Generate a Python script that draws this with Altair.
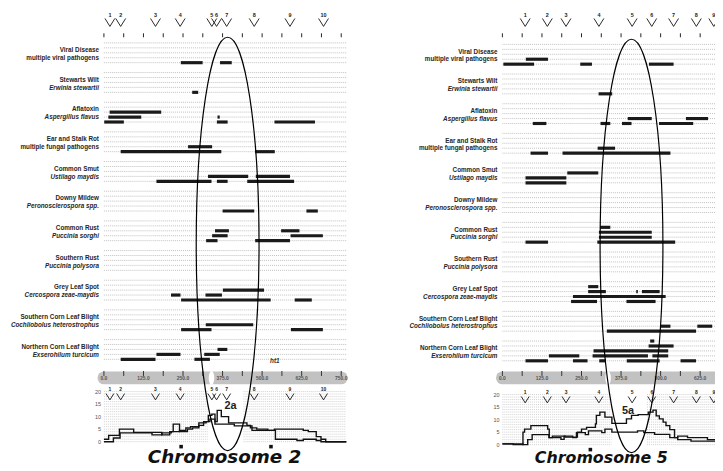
import altair as alt
import pandas as pd

# ---------------- data ----------------
diseases = ["Viral Disease", "Stewarts Wilt", "Aflatoxin", "Ear and Stalk Rot",
            "Common Smut", "Downy Mildew", "Common Rust", "Southern Rust",
            "Grey Leaf Spot", "Southern Corn Leaf Blight", "Northern Corn Leaf Blight"]
pathogens = ["multiple viral pathogens", "Erwinia stewartii", "Aspergillus flavus",
             "multiple fungal pathogens", "Ustilago maydis", "Peronosclerospora  spp.",
             "Puccinia sorghi", "Puccinia polysora", "Cercospora zeae-maydis",
             "Cochliobolus heterostrophus", "Exserohilum turcicum"]
pathogen_italic = [False, True, True, False, True, True, True, True, True, True, True]

bin_labels = ["1", "2", "3", "4", "5", "6", "7", "8", "9", "10"]
chr2_bins = [19, 53, 163, 241, 341, 356, 388, 475, 588, 694]
chr5_bins = [72, 142, 201, 305, 410, 472, 541, 613, 668]

map_ticks = [0, 62.5, 125, 187.5, 250, 312.5, 375, 437.5, 500, 562.5, 625, 687.5, 750]
chr2_map_labels = [0, 125, 250, 375, 500, 625, 750]
chr5_map_labels = [0, 125, 250, 375, 500, 625]
hist_labels = [0, 5, 10, 15, 20]
hist_grid = list(range(21))

# QTL bars: (disease index, row within group, start cM, end cM)
chr2_bars = [
    (0, 4, 243, 312), (0, 4, 367, 404),
    (1, 4, 279, 298),
    (2, 2, 18, 181), (2, 3, 14, 118), (2, 3, 359, 366), (2, 4, 1, 63), (2, 4, 357, 391), (2, 4, 539, 667),
    (3, 3, 266, 342), (3, 4, 53, 371), (3, 4, 478, 540),
    (4, 3, 329, 456), (4, 3, 480, 588), (4, 4, 166, 340), (4, 4, 357, 391), (4, 4, 453, 601),
    (5, 4, 375, 475), (5, 4, 640, 676),
    (6, 2, 351, 395), (6, 2, 560, 618), (6, 3, 342, 391), (6, 3, 590, 692), (6, 4, 323, 359), (6, 4, 478, 588),
    (8, 2, 376, 506), (8, 3, 212, 242), (8, 3, 321, 373), (8, 4, 244, 527), (8, 4, 603, 657),
    (9, 3, 322, 472), (9, 4, 244, 340), (9, 4, 591, 692),
    (10, 2, 359, 390), (10, 3, 166, 242), (10, 3, 317, 366), (10, 4, 53, 163), (10, 4, 286, 335),
]
chr5_bars = [
    (0, 3, 74, 144), (0, 4, 3, 100), (0, 4, 246, 283), (0, 4, 463, 541),
    (1, 4, 304, 347),
    (2, 3, 396, 472), (2, 3, 580, 650), (2, 4, 96, 139), (2, 4, 310, 341), (2, 4, 378, 408), (2, 4, 495, 603),
    (3, 3, 301, 356), (3, 4, 89, 144), (3, 4, 190, 531),
    (4, 2, 205, 303), (4, 3, 73, 202), (4, 4, 73, 202),
    (6, 1, 309, 341), (6, 2, 305, 472), (6, 3, 305, 472), (6, 4, 73, 144), (6, 4, 300, 546),
    (8, 1, 271, 303), (8, 2, 271, 327), (8, 2, 423, 428), (8, 2, 441, 497), (8, 3, 223, 516),
    (8, 4, 217, 299), (8, 4, 392, 484),
    (9, 3, 499, 531), (9, 3, 616, 663), (9, 4, 330, 612),
    (10, 0, 467, 480), (10, 1, 462, 541), (10, 2, 288, 524), (10, 3, 147, 243), (10, 3, 285, 460),
    (10, 3, 474, 524), (10, 4, 73, 144), (10, 4, 223, 269), (10, 4, 306, 327), (10, 4, 393, 497),
    (10, 4, 563, 612),
]

# QTL count histograms (step lines)
chr2_a_pos = [0, 30, 51, 122, 152, 183, 213, 239, 259, 274, 300, 323, 330, 341, 351, 358, 371, 394,
              452, 463, 483, 518, 542, 610, 630, 671, 686, 766]
chr2_a_val = [0, 1.5, 3.5, 3.5, 2.7, 3.5, 4, 4.5, 5.5, 6, 7.5, 8, 10.5, 11, 8, 12.5, 10, 7.5,
              6.5, 5.5, 5, 4.5, 1, 0.5, 1, 0.5, 0, 0]
chr2_b_pos = [0, 15, 49, 94, 152, 183, 208, 219, 239, 264, 280, 300, 315, 335, 351, 412, 468, 539,
              630, 646, 671, 686, 701, 766]
chr2_b_val = [1, 2.5, 5, 3.7, 3.7, 2.7, 4, 7, 4, 5, 5.5, 6.5, 8, 9, 7, 6.3, 4.5, 5,
              4.5, 4, 2, 1, 0, 0]
chr5_a_pos = [0, 65, 80, 94, 147, 158, 198, 237, 250, 266, 294, 297, 308, 324, 346, 392, 408, 429,
              461, 476, 486, 496, 508, 517, 529, 544, 554, 585, 648, 712, 766]
chr5_a_val = [0.3, 0, 2, 4, 2.8, 3.4, 3, 5, 6.2, 6.9, 8.3, 11.7, 13, 11, 8.5, 10.3, 11.7, 12,
              13, 13.8, 11.5, 10.3, 9, 7.6, 6, 2.8, 3.4, 2.8, 2, 1.5, 1]
chr5_b_pos = [0, 34, 65, 70, 90, 143, 148, 185, 195, 222, 234, 262, 272, 314, 324, 346, 407, 427,
              447, 481, 529, 554, 596, 661, 712, 766]
chr5_b_val = [0.3, 0, 5, 6.2, 7.6, 6.2, 2.8, 2.1, 3.4, 2.8, 4.8, 4, 5.5, 4.8, 6.2, 5, 5, 5.5,
              4.8, 4.1, 2.8, 2, 1.4, 1.4, 1, 0.5]

chr2_centromere, chr5_centromere = 340, 334
chr2_focus, chr5_focus = 391, 408          # centre of highlighted region (cM)
chr2_gap, chr5_gap = (328, 441), (345, 457)
chr2_squares, chr5_squares = [244, 528], [278]
chr2_peak = ("2a", 400, 14.2)
chr5_peak = ("5a", 397, 13.4)

# ---------------- layout / style ----------------
OFF = 8
SPAN = 240
W, H = 715, 460
FONT = "Liberation Sans"
CHEV = "M-1,-0.8L0,0.8L1,-0.8"


def ellipse_path(rx):
    k = 0.5523
    a = k * rx
    return (f"M0,-1C{a:.4f},-1,{rx:.4f},-{k},{rx:.4f},0"
            f"C{rx:.4f},{k},{a:.4f},1,0,1"
            f"C-{a:.4f},1,-{rx:.4f},{k},-{rx:.4f},0"
            f"C-{rx:.4f},-{k},-{a:.4f},-1,0,-1Z")


NOTCH = ellipse_path(0.4)
ELL = ellipse_path(0.152)
ELL_SIZE = 418 ** 2


def build_panel(title, title_x, title_size, bins, bars, map_labels, hpos_a, hval_a, hpos_b, hval_b,
                centro, focus, gap, squares, peak, x0, dyt, dyh, ell_y, extra=None):
    L = []
    xscale = alt.Scale(domain=[0, 750], range=[x0 - OFF, x0 + SPAN - OFF], nice=False, zero=False)

    def X(f):
        return alt.X(f, type="quantitative", scale=xscale, axis=None)

    tscale = alt.Scale(domain=[0, 64], range=[40.7 + dyt - OFF, 360.7 + dyt - OFF], nice=False, zero=False)

    def TY(f):
        return alt.Y(f, type="quantitative", scale=tscale, axis=None)

    hscale = alt.Scale(domain=[0, 20], range=[444 + dyh - OFF, 393.3 + dyh - OFF], nice=False, zero=False)

    def HY(f):
        return alt.Y(f, type="quantitative", scale=hscale, axis=None)

    def P(p):
        return alt.value(p - OFF)

    # track grid lines
    grid = pd.DataFrame({"u": [g * 6 + r for g in range(len(diseases)) for r in range(5)]})
    L.append(alt.Chart(grid).mark_rule(color="#a6a6a6", strokeWidth=0.7, strokeDash=[1, 1]).encode(
        x=P(x0), x2=P(x0 + 246), y=TY("u")))

    # bars
    bdf = pd.DataFrame(bars, columns=["g", "r", "s", "e"])
    bdf["u"] = bdf["g"] * 6 + bdf["r"]
    L.append(alt.Chart(bdf).mark_rule(strokeWidth=3.2, color="#1a1a1a").encode(
        x=X("s"), x2="e", y=TY("u")))

    # labels
    lab = pd.DataFrame({"name": diseases, "path": pathogens, "it": pathogen_italic,
                        "g": list(range(len(diseases)))})
    lab["u1"] = lab["g"] * 6 + 1.45
    lab["u2"] = lab["g"] * 6 + 3.05
    tkw = dict(align="right", baseline="middle", fontSize=6.4, fontWeight="bold", font=FONT, color="#262626")
    L.append(alt.Chart(lab).mark_text(**tkw).encode(x=P(x0 - 5), y=TY("u1"), text="name:N"))
    L.append(alt.Chart(lab[lab["it"]]).mark_text(fontStyle="italic", **tkw).encode(
        x=P(x0 - 5), y=TY("u2"), text="path:N"))
    L.append(alt.Chart(lab[~lab["it"]]).mark_text(**tkw).encode(
        x=P(x0 - 5), y=TY("u2"), text="path:N"))

    # top ticks + bin markers
    tk = pd.DataFrame({"t": map_ticks})
    L.append(alt.Chart(tk).mark_rule(color="#222222", strokeWidth=1).encode(
        x=X("t"), y=P(31), y2=P(35)))
    bd = pd.DataFrame({"b": bins, "lab": bin_labels[:len(bins)]})
    L.append(alt.Chart(bd).mark_point(shape=CHEV, size=100, filled=False, color="#111111",
                                      strokeWidth=0.9, opacity=1).encode(x=X("b"), y=P(20)))
    L.append(alt.Chart(bd).mark_text(fontSize=5.5, fontWeight="bold", font=FONT, color="#222222").encode(
        x=X("b"), y=P(12.5), text="lab:N"))

    # chromosome map bar
    cb = pd.DataFrame({"s": [0], "e": [750], "c": [centro]})
    L.append(alt.Chart(cb).mark_rule(strokeWidth=13, strokeCap="round", color="#c2c2c2").encode(
        x=X("s"), x2="e", y=P(379.5)))
    L.append(alt.Chart(cb).mark_point(shape=NOTCH, size=190, filled=True, color="white", opacity=1).encode(
        x=X("c"), y=P(379.5)))
    L.append(alt.Chart(tk).mark_rule(color="#333333", strokeWidth=1).encode(
        x=X("t"), y=P(372.5), y2=P(377.5)))
    ml = pd.DataFrame({"m": map_labels, "txt": [f"{v:.1f}" for v in map_labels]})
    L.append(alt.Chart(ml).mark_text(fontSize=5, fontWeight="bold", font=FONT, color="#555555",
                                     baseline="middle").encode(x=X("m"), y=P(380), text="txt:N"))

    # histogram grid
    hg = pd.DataFrame([(v, s, e) for v in hist_grid for (s, e) in [(0, gap[0]), (gap[1], 766)]],
                      columns=["v", "s", "e"])
    L.append(alt.Chart(hg).mark_rule(color="#b0b0b0", strokeWidth=0.6, strokeDash=[1, 1]).encode(
        x=X("s"), x2="e", y=HY("v")))
    hl = pd.DataFrame({"v": hist_labels})
    L.append(alt.Chart(hl).mark_text(align="right", baseline="middle", fontSize=5.5, font=FONT,
                                     color="#555555").encode(x=P(x0 - 3), y=HY("v"), text="v:Q"))

    # histogram bin markers
    L.append(alt.Chart(bd).mark_point(shape=CHEV, size=64, filled=False, color="#111111",
                                      strokeWidth=0.9, opacity=1).encode(x=X("b"), y=P(398.5 + dyh)))
    L.append(alt.Chart(bd).mark_text(fontSize=5, fontWeight="bold", font=FONT, color="#222222").encode(
        x=X("b"), y=P(390.5 + dyh), text="lab:N"))

    # step lines
    hd = pd.concat([
        pd.DataFrame({"s": "a", "x": hpos_a, "v": hval_a}),
        pd.DataFrame({"s": "b", "x": hpos_b, "v": hval_b}),
    ])
    L.append(alt.Chart(hd).mark_line(interpolate="step-after", strokeWidth=1.4, color="#111111").encode(
        x=X("x"), y=HY("v"), detail="s:N"))

    pk = pd.DataFrame({"t": [peak[0]], "x": [peak[1]], "v": [peak[2]]})
    L.append(alt.Chart(pk).mark_text(fontSize=11, fontWeight="bold", font=FONT, color="#222222",
                                     baseline="middle").encode(x=X("x"), y=HY("v"), text="t:N"))

    sq = pd.DataFrame({"x": squares})
    L.append(alt.Chart(sq).mark_square(size=13, color="#111111", opacity=1).encode(
        x=X("x"), y=P(449 + dyh)))

    # highlighted region
    el = pd.DataFrame({"c": [focus]})
    L.append(alt.Chart(el).mark_point(shape=ELL, size=ELL_SIZE, filled=False, color="black",
                                      strokeWidth=1.2, opacity=1).encode(x=X("c"), y=P(ell_y)))

    # title
    tt = pd.DataFrame({"t": [title]})
    L.append(alt.Chart(tt).mark_text(fontSize=title_size, fontWeight="bold", fontStyle="italic",
                                     font="DejaVu Sans", color="#111111", align="center",
                                     baseline="alphabetic").encode(x=P(title_x), y=P(466), text="t:N"))
    if extra is not None:
        ex = pd.DataFrame({"t": [extra[0]], "x": [extra[1]], "u": [extra[2]]})
        L.append(alt.Chart(ex).mark_text(fontSize=6.5, fontWeight="bold", fontStyle="italic", font=FONT,
                                         color="#333333", baseline="middle").encode(
            x=X("x"), y=TY("u"), text="t:N"))
    return L


layers = build_panel("Chromosome 2", 227, 18.5, chr2_bins, chr2_bars, chr2_map_labels,
                     chr2_a_pos, chr2_a_val, chr2_b_pos, chr2_b_val, chr2_centromere, chr2_focus,
                     chr2_gap, chr2_squares, chr2_peak, 105, 0, 0, 244, extra=("ht1", 540, 64.3))
layers += build_panel("Chromosome 5", 608, 16, chr5_bins, chr5_bars, chr5_map_labels,
                      chr5_a_pos, chr5_a_val, chr5_b_pos, chr5_b_val, chr5_centromere, chr5_focus,
                      chr5_gap, chr5_squares, chr5_peak, 508, 1.5, 3, 246)

chart = alt.layer(*layers).resolve_scale(x="independent", y="independent").properties(
    width=W, height=H, padding=0, autosize=alt.AutoSizeParams(type="none")
).configure_view(stroke=None)

chart.save("out.html", embed_options={"renderer": "svg", "actions": False})
